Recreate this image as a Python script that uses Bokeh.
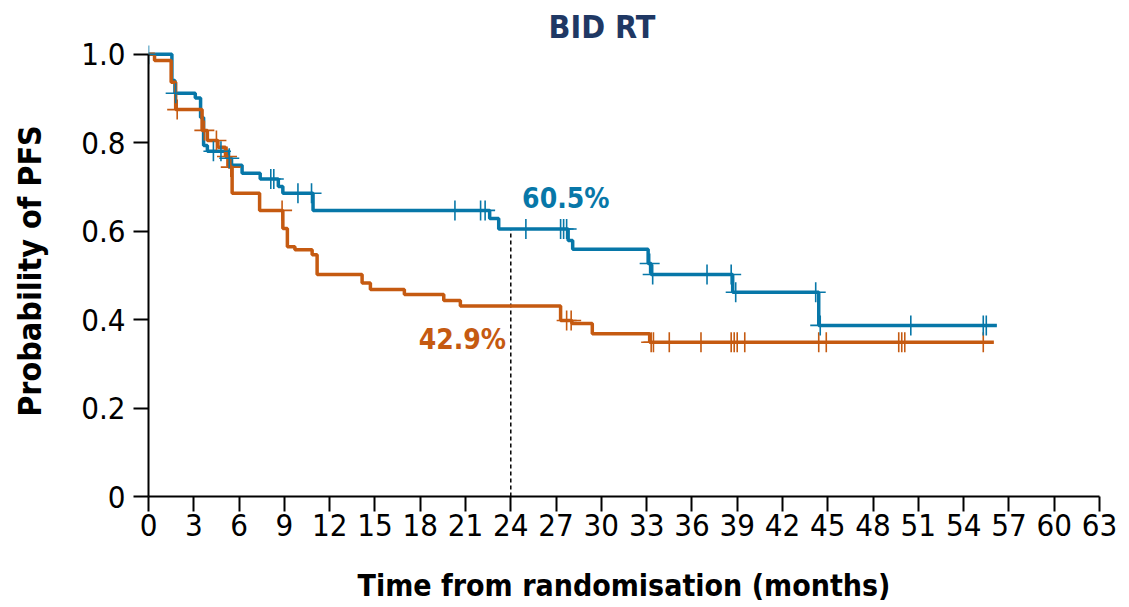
import numpy as np
from bokeh.plotting import figure
from bokeh.models import Range1d, FixedTicker, Label
from bokeh.embed import file_html
from bokeh.resources import INLINE

# ---- data ----
blue_t = [0, 1.55, 1.75, 3.1, 3.45, 3.65, 3.9, 5.3, 5.5, 6.2, 7.4, 8.6, 8.9, 10.9,
          22.6, 23.2, 27.8, 28.1, 33.1, 33.3, 38.7, 44.4, 56.2]
blue_s = [1.0, 0.941, 0.912, 0.901, 0.857, 0.794, 0.781, 0.765, 0.749, 0.731, 0.718,
          0.701, 0.686, 0.647, 0.629, 0.605, 0.579, 0.559, 0.527, 0.502, 0.462, 0.387, 0.387]
blue_censor = [0, 1.8, 4.3, 4.8, 5.35, 8.1, 8.3, 9.9, 10.8, 20.3, 22.0, 22.3, 25.0,
               27.3, 27.5, 27.7, 33.2, 33.4, 37.0, 38.6, 38.9, 44.2, 44.5, 50.5, 55.3, 55.5]

orange_t = [0, 0.4, 1.5, 1.8, 3.55, 3.9, 4.6, 5.1, 5.3, 5.54, 7.36, 8.9, 9.2, 9.7,
            10.84, 11.17, 14.15, 14.7, 16.95, 19.56, 20.66, 27.3, 28.05, 29.4, 33.2, 56.0]
orange_s = [1.0, 0.986, 0.937, 0.875, 0.828, 0.805, 0.79, 0.769, 0.745, 0.686, 0.647,
            0.606, 0.565, 0.558, 0.547, 0.502, 0.483, 0.468, 0.457, 0.443, 0.431, 0.398,
            0.391, 0.368, 0.349, 0.349]
orange_censor = [1.9, 3.7, 4.5, 5.2, 5.45, 8.85, 27.7, 28.0, 33.3, 33.45, 34.5, 36.6,
                 38.6, 38.8, 39.0, 39.5, 44.4, 44.9, 49.7, 49.9, 50.1, 55.3]

x_ticks = list(range(0, 64, 3))
y_ticks = [0, 0.2, 0.4, 0.6, 0.8, 1.0]
y_tick_labels = ["0", "0.2", "0.4", "0.6", "0.8", "1.0"]
landmark = 24
blue_label = "60.5%"
orange_label = "42.9%"
title_text = "BID RT"

FONT = "DejaVu Sans Condensed, Liberation Sans, sans-serif"
BLUE = "#0777A8"
ORANGE = "#C55A11"
NAVY = "#1F3864"


def step_at(ts, ss, x):
    idx = np.searchsorted(np.asarray(ts), np.asarray(x), side="right") - 1
    return list(np.asarray(ss)[np.clip(idx, 0, len(ss) - 1)])


p = figure(width=1125, height=606, output_backend="svg", toolbar_location=None,
           x_range=Range1d(0, 63), y_range=Range1d(0, 1.02),
           min_border_left=148, min_border_right=26, min_border_top=45,
           min_border_bottom=110, title=title_text)
p.outline_line_color = None
p.xgrid.visible = False
p.ygrid.visible = False
p.background_fill_color = "white"
p.border_fill_color = "white"

p.title.align = "left"
p.title.offset = 400
p.title.standoff = 0
p.title.text_font = FONT
p.title.text_font_style = "bold"
p.title.text_font_size = "32px"
p.title.text_color = NAVY

# axes
xa = p.xaxis[0]
xa.ticker = FixedTicker(ticks=x_ticks)
xa.minor_tick_line_color = None
xa.major_tick_out = 15
xa.major_tick_in = 0
xa.axis_line_width = 2
xa.major_tick_line_width = 2
xa.axis_line_color = "black"
xa.major_tick_line_color = "black"
xa.major_label_text_font = FONT
xa.major_label_text_font_size = "31px"
xa.major_label_text_color = "black"
xa.major_label_standoff = 2
xa.axis_label = "Time from randomisation (months)"
xa.axis_label_text_font = FONT
xa.axis_label_text_font_style = "bold"
xa.axis_label_text_font_size = "30px"
xa.axis_label_text_color = "black"
xa.axis_label_standoff = 29

ya = p.yaxis[0]
ya.bounds = (0, 1)
ya.ticker = FixedTicker(ticks=y_ticks)
ya.major_label_overrides = {t: l for t, l in zip(y_ticks, y_tick_labels)}
ya.minor_tick_line_color = None
ya.major_tick_out = 15
ya.major_tick_in = 0
ya.axis_line_width = 2
ya.major_tick_line_width = 2
ya.axis_line_color = "black"
ya.major_tick_line_color = "black"
ya.major_label_text_font = FONT
ya.major_label_text_font_size = "31px"
ya.major_label_text_color = "black"
ya.major_label_standoff = 8
ya.axis_label = "Probability of PFS"
ya.axis_label_text_font = FONT
ya.axis_label_text_font_style = "bold"
ya.axis_label_text_font_size = "32px"
ya.axis_label_text_color = "black"
ya.axis_label_standoff = 29

# landmark dashed line
lm_y = step_at(blue_t, blue_s, [landmark])[0]
p.segment(x0=[landmark], y0=[0], x1=[landmark], y1=[lm_y],
          line_color="black", line_width=1.5, line_dash="4 3")

# curves
p.step(blue_t, blue_s, mode="after", line_color=BLUE, line_width=3.5)
p.step(orange_t, orange_s, mode="after", line_color=ORANGE, line_width=3.5)

# censor marks
p.scatter(orange_censor, step_at(orange_t, orange_s, orange_censor), marker="cross",
          size=20, line_color=ORANGE, line_width=1.6)
p.scatter(blue_censor, step_at(blue_t, blue_s, blue_censor), marker="cross",
          size=20, line_color=BLUE, line_width=1.6)

# annotations
p.add_layout(Label(x=24.75, y=0.674, text=blue_label, text_align="left",
                   text_baseline="alphabetic", text_font=FONT, text_font_style="bold",
                   text_font_size="28px", text_color=BLUE))
p.add_layout(Label(x=17.9, y=0.355, text=orange_label, text_align="left",
                   text_baseline="alphabetic", text_font=FONT, text_font_style="bold",
                   text_font_size="28px", text_color=ORANGE))

open("out.html", "w").write(file_html(p, INLINE))
